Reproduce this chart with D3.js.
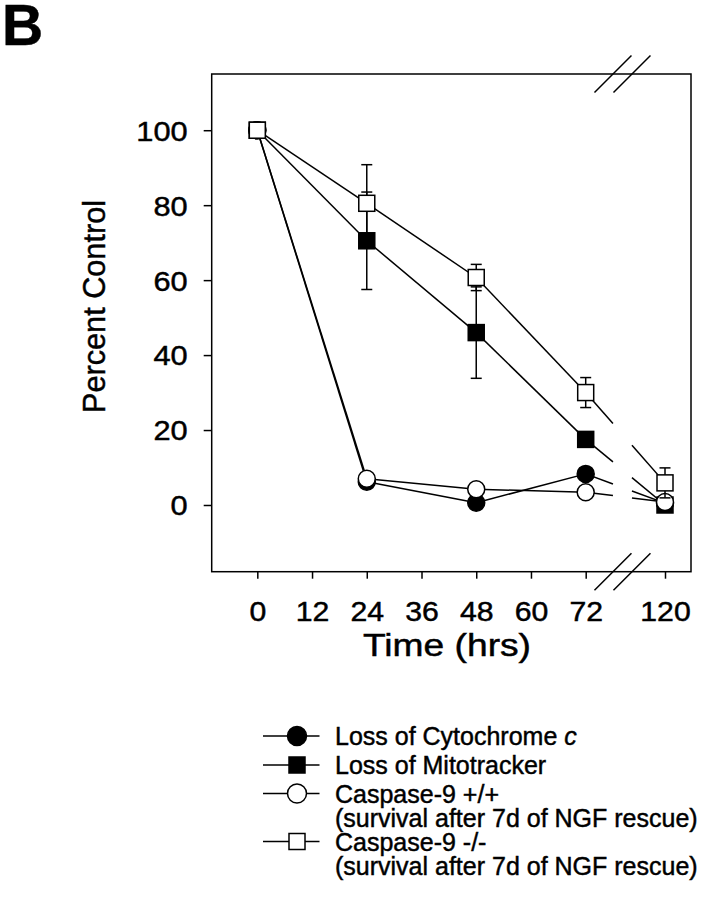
<!DOCTYPE html>
<html>
<head>
<meta charset="utf-8">
<script src="https://cdn.jsdelivr.net/npm/d3@7"></script>
<style>
  html, body { margin: 0; padding: 0; background: #fff; }
  svg { display: block; }
  text { font-family: "Liberation Sans", Arial, Helvetica, sans-serif; fill: #000; stroke: #000; stroke-width: 0.45px; }
</style>
</head>
<body>
<script>
// ---- data ----
const hours = [0, 24, 48, 72, 120];
const xTickValues = [0, 12, 24, 36, 48, 60, 72, 120];
const yTickValues = [0, 20, 40, 60, 80, 100];

const lossCytochromeC = [100, 6.2, 0.6, 8.3, 0.5];
const lossMitotracker = [100, 70.5, 46, 17.5, 0];
const caspase9WT = [100, 7, 4.2, 3.4, 0.8];
const caspase9KO = [100, 80.5, 60.7, 30, 5.9];

const lossCytochromeCErr = [0, 0, 0, 0, 0];
const lossMitotrackerErr = [0, 13, 12.2, 0, 0];
const caspase9WTErr = [0, 0, 0, 0, 0];
const caspase9KOErr = [0, 10.3, 3.5, 4, 4];

const seriesNames = ["Loss of Cytochrome ", "Loss of Mitotracker", "Caspase-9 +/+", "Caspase-9 -/-"];
const seriesSub = [null, null, "(survival after 7d of NGF rescue)", "(survival after 7d of NGF rescue)"];
const breakRange = [88.5, 100]; // axis break (hrs, in the compressed region)

// ---- setup ----
(function () {
const W = 704, H = 899;
const svg = d3.select("body").append("svg").attr("width", W).attr("height", H);

const pL = 211.7, pR = 691, pT = 74, pB = 571.7;
const x = d3.scaleLinear().domain([-10, 72, 120, 125.7]).range([pL, 585.7, 665, pR]);
const y = d3.scaleLinear().domain([-17.8, 115]).range([pB, pT]);

const series = [
  { v: lossCytochromeC, e: lossCytochromeCErr, shape: "circle", fill: "#000" },
  { v: lossMitotracker, e: lossMitotrackerErr, shape: "square", fill: "#000" },
  { v: caspase9WT, e: caspase9WTErr, shape: "circle", fill: "#fff" },
  { v: caspase9KO, e: caspase9KOErr, shape: "square", fill: "#fff" }
];

// Title
svg.append("text").attr("x", 2).attr("y", 45)
  .attr("font-size", 57).attr("font-weight", "bold").text("B");

// Frame
svg.append("rect").attr("x", pL).attr("y", pT)
  .attr("width", pR - pL).attr("height", pB - pT)
  .attr("fill", "none").attr("stroke", "#000").attr("stroke-width", 1.5);

const tickSX = 1.12;

// Y axis
const yAxis = d3.axisLeft(y).tickValues(yTickValues).tickSize(8).tickPadding(16);
const gy = svg.append("g").attr("transform", `translate(${pL},0)`).call(yAxis);
gy.select(".domain").remove();
gy.selectAll(".tick line").attr("stroke", "#000").attr("stroke-width", 1.5);
gy.selectAll(".tick text").attr("font-size", 27.5).attr("font-family", "Liberation Sans, Arial, sans-serif")
  .attr("x", -24 / tickSX).attr("dy", "0.36em").attr("transform", `scale(${tickSX},1)`);

// X axis
const xAxis = d3.axisBottom(x).tickValues(xTickValues).tickSize(7).tickPadding(42.3);
const gx = svg.append("g").attr("transform", `translate(0,${pB})`).call(xAxis);
gx.select(".domain").remove();
gx.selectAll(".tick line").attr("stroke", "#000").attr("stroke-width", 1.5);
gx.selectAll(".tick text").attr("font-size", 27).attr("font-family", "Liberation Sans, Arial, sans-serif")
  .attr("dy", "0").attr("transform", `scale(${tickSX},1)`);

// Axis titles
svg.append("text").attr("x", 447).attr("y", 655.5).attr("text-anchor", "middle")
  .attr("font-size", 31).attr("textLength", 168).attr("lengthAdjust", "spacingAndGlyphs")
  .text("Time (hrs)");
svg.append("text").attr("transform", "translate(105,306.5) rotate(-90)")
  .attr("text-anchor", "middle").attr("font-size", 32)
  .attr("textLength", 213).attr("lengthAdjust", "spacingAndGlyphs")
  .text("Percent Control");

// Break marks
function breakMark(cx, cy) {
  svg.append("line").attr("x1", cx - 18.5).attr("y1", cy + 18.5)
    .attr("x2", cx + 18.5).attr("y2", cy - 18.5)
    .attr("stroke", "#000").attr("stroke-width", 1.5);
}
breakRange.forEach(b => { breakMark(x(b), pB); breakMark(x(b), pT); });

// Plot series
const plot = svg.append("g");
function interp(t0, v0, t1, v1, t) { return v0 + (v1 - v0) * (t - t0) / (t1 - t0); }

function drawMarker(g, shape, fill, cx, cy, r) {
  if (shape === "circle") {
    g.append("circle").attr("cx", cx).attr("cy", cy).attr("r", r)
      .attr("fill", fill).attr("stroke", "#000").attr("stroke-width", 1.5);
  } else {
    const h = r - 0.5;
    g.append("rect").attr("x", cx - h).attr("y", cy - h).attr("width", 2 * h).attr("height", 2 * h)
      .attr("fill", fill).attr("stroke", "#000").attr("stroke-width", 1.5);
  }
}

series.forEach(s => {
  const g = plot.append("g");
  for (let i = 0; i < hours.length - 1; i++) {
    const t0 = hours[i], t1 = hours[i + 1], v0 = s.v[i], v1 = s.v[i + 1];
    if (t0 < breakRange[0] && t1 > breakRange[1]) {
      const va = interp(t0, v0, t1, v1, breakRange[0]);
      const vb = interp(t0, v0, t1, v1, breakRange[1]);
      g.append("line").attr("x1", x(t0)).attr("y1", y(v0)).attr("x2", x(breakRange[0])).attr("y2", y(va))
        .attr("stroke", "#000").attr("stroke-width", 1.5);
      g.append("line").attr("x1", x(breakRange[1])).attr("y1", y(vb)).attr("x2", x(t1)).attr("y2", y(v1))
        .attr("stroke", "#000").attr("stroke-width", 1.5);
    } else {
      g.append("line").attr("x1", x(t0)).attr("y1", y(v0)).attr("x2", x(t1)).attr("y2", y(v1))
        .attr("stroke", "#000").attr("stroke-width", 1.5);
    }
  }
  hours.forEach((t, i) => {
    const e = s.e[i];
    if (!e) return;
    const cx = x(t);
    g.append("line").attr("x1", cx).attr("x2", cx).attr("y1", y(s.v[i] - e)).attr("y2", y(s.v[i] + e))
      .attr("stroke", "#000").attr("stroke-width", 1.5);
    [s.v[i] - e, s.v[i] + e].forEach(v => {
      g.append("line").attr("x1", cx - 5.5).attr("x2", cx + 5.5).attr("y1", y(v)).attr("y2", y(v))
        .attr("stroke", "#000").attr("stroke-width", 1.5);
    });
  });
  hours.forEach((t, i) => {
    drawMarker(g, s.shape, s.fill, x(t), y(s.v[i]), 8.5);
  });
});

// Legend
const legendBaselines = [745, 774, 802.5, 850.5];
const subBaselines = [null, null, 827, 875];
series.forEach((s, i) => {
  const by = legendBaselines[i];
  const my = by - 9;
  const lg = svg.append("g");
  lg.append("line").attr("x1", 263).attr("x2", 319.5).attr("y1", my).attr("y2", my)
    .attr("stroke", "#000").attr("stroke-width", 1.5);
  drawMarker(lg, s.shape, s.fill, 297, my, s.shape === "circle" ? 9.5 : 8.5);
  const t = lg.append("text").attr("x", 335).attr("y", by).attr("font-size", 25).text(seriesNames[i]);
  if (i === 0) t.append("tspan").attr("font-style", "italic").text("c");
  if (seriesSub[i]) {
    lg.append("text").attr("x", 335).attr("y", subBaselines[i]).attr("font-size", 25).text(seriesSub[i]);
  }
});
})();
</script>
</body>
</html>
